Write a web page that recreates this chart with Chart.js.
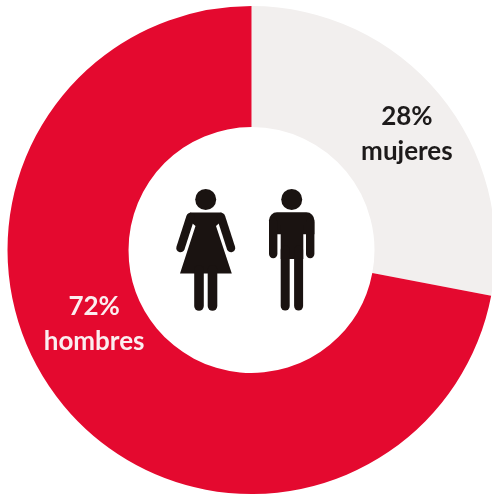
<!DOCTYPE html>
<html>
<head>
<meta charset="utf-8">
<script src="https://cdn.jsdelivr.net/npm/chart.js@4"></script>
<style>
  html, body { margin: 0; padding: 0; background: #fff; overflow: hidden; }
  canvas { display: block; }
</style>
</head>
<body>
<canvas id="donut" width="500" height="496"></canvas>
<script>
// Share of women and men
var categories = ["mujeres", "hombres"];
var shares = [28, 72];
var sliceColors = ["#f2efee", "#e4092f"];
var labelColors = ["#1d1a1a", "#fbeef0"];

var ink = "#1a1311";

function roundedLine(ctx, x1, y1, x2, y2, width) {
  ctx.lineWidth = width;
  ctx.lineCap = "round";
  ctx.beginPath();
  ctx.moveTo(x1, y1);
  ctx.lineTo(x2, y2);
  ctx.stroke();
}

function drawWoman(ctx) {
  ctx.beginPath();
  ctx.arc(205.7, 199.5, 10.5, 0, Math.PI * 2);
  ctx.fill();
  // dress
  ctx.beginPath();
  ctx.moveTo(190, 212.5);
  ctx.lineTo(221.5, 212.5);
  ctx.lineTo(225, 218);
  ctx.lineTo(216, 226);
  ctx.lineTo(231.8, 273.5);
  ctx.lineTo(180, 273.5);
  ctx.lineTo(195.5, 226);
  ctx.lineTo(186, 218);
  ctx.closePath();
  ctx.fill();
  // arms
  roundedLine(ctx, 190.5, 217, 180.5, 248, 8.5);
  roundedLine(ctx, 221, 217, 231, 248, 8.5);
  // legs
  roundedLine(ctx, 199, 270, 199, 306, 9.6);
  roundedLine(ctx, 212.5, 270, 212.5, 306, 9.6);
}

function drawMan(ctx) {
  ctx.beginPath();
  ctx.arc(291.7, 199.5, 10.5, 0, Math.PI * 2);
  ctx.fill();
  // torso and shoulders
  ctx.beginPath();
  ctx.roundRect(269, 212.3, 45.4, 22, [8, 8, 0, 0]);
  ctx.fill();
  ctx.fillRect(280.7, 225, 22.6, 34);
  // arms
  roundedLine(ctx, 273.2, 222, 273.2, 254, 8.4);
  roundedLine(ctx, 310.2, 222, 310.2, 254, 8.4);
  // legs
  roundedLine(ctx, 285.2, 250, 285.2, 306, 9);
  roundedLine(ctx, 298.6, 250, 298.6, 306, 9);
}

var overlay = {
  id: "overlay",
  afterDraw: function (chart) {
    var ctx = chart.ctx;
    var meta = chart.getDatasetMeta(0);
    ctx.save();
    ctx.fillStyle = ink;
    ctx.strokeStyle = ink;
    drawWoman(ctx);
    drawMan(ctx);

    // slice captions, anchored on each arc's own position
    var offsets = [[14, 1.5], [-16, -43]];
    ctx.textAlign = "center";
    ctx.textBaseline = "middle";
    ctx.font = "700 26px Lato";
    meta.data.forEach(function (arc, i) {
      var p = arc.tooltipPosition();
      var x = p.x + offsets[i][0];
      var y = p.y + offsets[i][1];
      ctx.fillStyle = labelColors[i];
      ctx.fillText(shares[i] + "%", x, y - 17.5);
      ctx.fillText(categories[i], x, y + 17.5);
    });
    ctx.restore();
  },
};

new Chart(document.getElementById("donut").getContext("2d"), {
  type: "doughnut",
  data: {
    labels: categories,
    datasets: [
      {
        data: shares,
        backgroundColor: sliceColors,
        borderWidth: 0,
      },
    ],
  },
  options: {
    responsive: false,
    animation: false,
    cutout: "50.4%",
    layout: { padding: { left: 7.5, right: 4.5, top: 6, bottom: 2 } },
    plugins: {
      legend: { display: false },
      tooltip: { enabled: false },
    },
  },
  plugins: [overlay],
});
</script>
</body>
</html>
